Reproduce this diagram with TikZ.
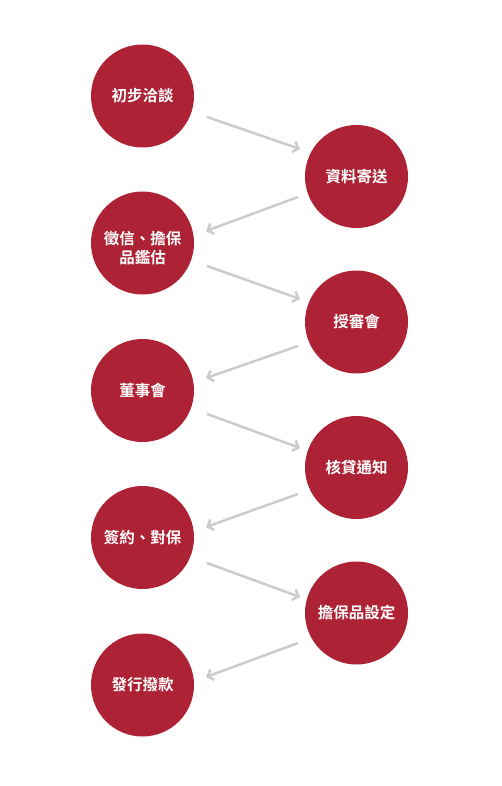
\documentclass[tikz,border=0pt]{standalone}
\usepackage{fontspec}
\newfontfamily\cjk{Noto Sans CJK TC}[BoldFont={* Bold}]
\usetikzlibrary{arrows.meta,calc}
\definecolor{stepred}{HTML}{AD2234}
\definecolor{arrowgray}{HTML}{CCCCCC}
\begin{document}
\begin{tikzpicture}[x=1pt,y=-1pt,
  stepcircle/.style={circle,fill=stepred,minimum size=103pt,inner sep=0pt,
    text=white,font=\cjk\bfseries\fontsize{15.5}{19.5}\selectfont,align=center},
  steptext/.style={text=white,font=\cjk\bfseries\fontsize{15.5}{19.5}\selectfont,align=center,inner sep=0pt},
  flowarrow/.style={draw=arrowgray,line width=2.5pt,
    -{Straight Barb[length=5pt,width=11pt]}}]
\useasboundingbox (0,0) rectangle (501,786);
\fill[white] (0,0) rectangle (501,786);
\node[stepcircle] (c1) at (142.5,96) {初步洽談};
\node[stepcircle] (c2) at (356.5,176.5) {資料寄送};
\node[stepcircle] (c3) at (142.5,243) {};
\node[steptext] (t3) at (142.5,248) {徵信、擔保\\品鑑估};
\node[stepcircle] (c4) at (356.5,322) {授審會};
\node[stepcircle] (c5) at (142.5,390.5) {董事會};
\node[stepcircle] (c6) at (356.5,467.5) {核貸通知};
\node[stepcircle] (c7) at (142.5,537.5) {簽約、對保};
\node[stepcircle] (c8) at (356.5,613) {擔保品設定};
\node[stepcircle] (c9) at (142.5,685) {發行撥款};
% arrows: node / start offset / direction
\foreach \n/\ox/\oy/\dx/\dy in {
  c1/64.5/21/93/32,
  c2/-58.5/20.5/-92/34,
  c3/64.5/23/93/33,
  c4/-58.5/24/-92/32,
  c5/64.5/23.5/93/34,
  c6/-58.5/26.5/-92/33,
  c7/64.5/25.5/93/34,
  c8/-58.5/30/-92/34}{
  \coordinate (\n s) at ($(\n)+(\ox,\oy)$);
  \coordinate (\n e) at ($(\n s)+(\dx,\dy)$);
  \draw[flowarrow] (\n s) -- (\n e);
}
\end{tikzpicture}
\end{document}
